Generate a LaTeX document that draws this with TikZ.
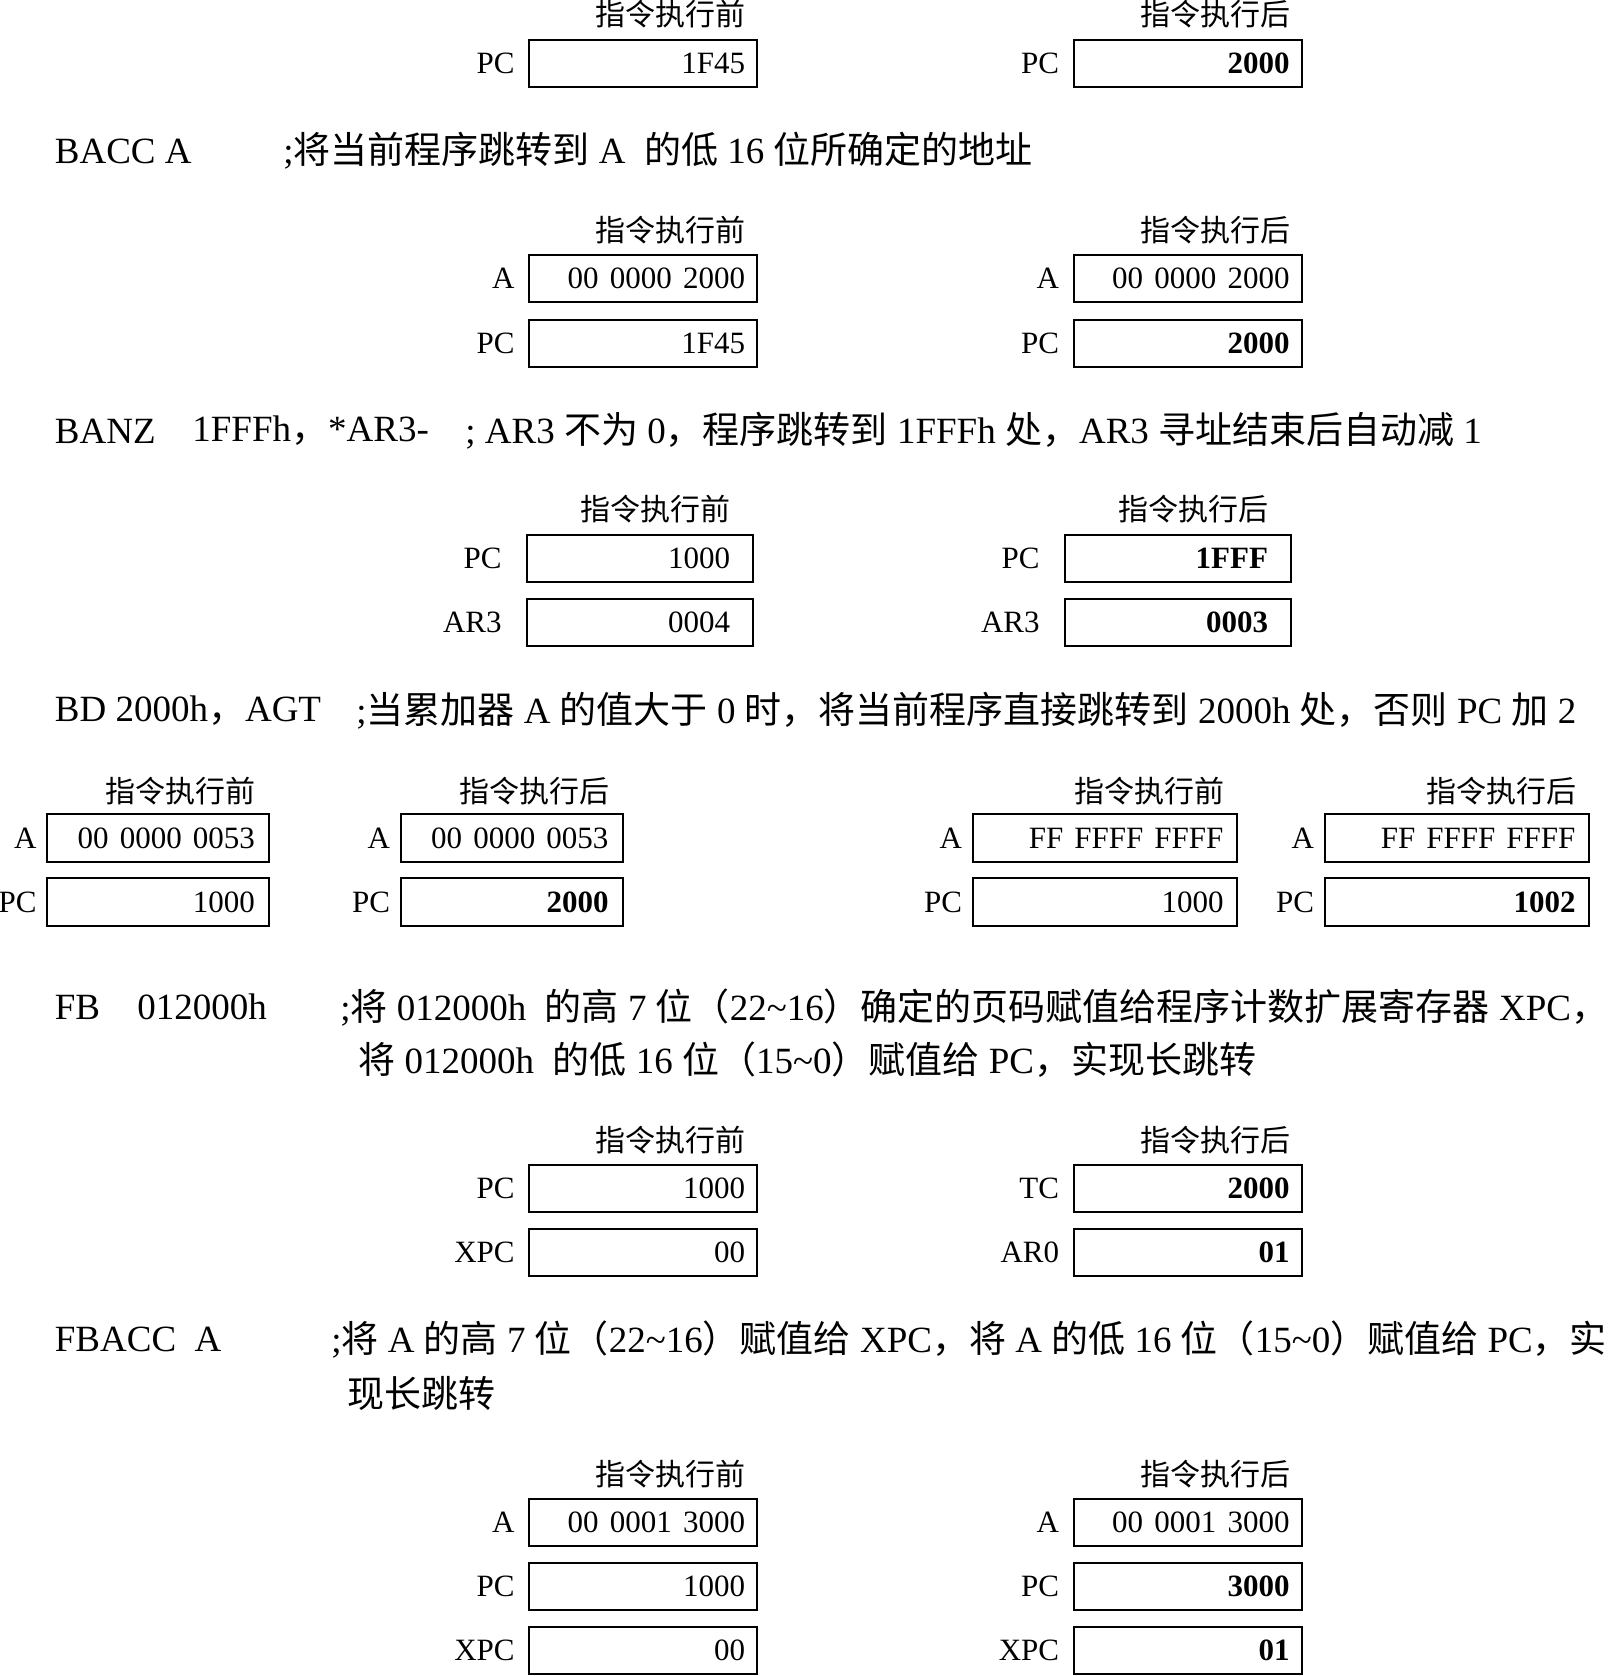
\documentclass[tikz,border=0pt]{standalone}
\usepackage{fontspec}
\setmainfont{Liberation Serif}
\newfontfamily\cjk{Noto Sans CJK SC}
\newcommand\zh[1]{{\cjk #1}}
\newcommand\regsp{\hspace{.36em}}
\usetikzlibrary{positioning}

\begin{document}
\begin{tikzpicture}[x=0.5pt, y=-0.5pt,
    reg/.style={draw, line width=1pt, minimum height=23.5pt, text width=#1, align=right,
        inner xsep=6pt, inner ysep=0pt, font=\fontsize{15.5}{17}\selectfont},
    lbl/.style={inner sep=0pt, font=\fontsize{15.5}{17}\selectfont},
    hdr/.style={inner sep=0pt, font=\fontsize{15}{17}\selectfont\cjk},
    txt/.style={anchor=west, inner sep=0pt, font=\fontsize{18.5}{22}\selectfont}]
    \useasboundingbox (0,0) rectangle (1611,1676);

    % B: before / after
    \node[reg=102pt] (pcA) at (643,63) {1F45};
    \node[reg=102pt] (pcB) at (1187.5,63) {\textbf{2000}};
    \node[lbl, left=6.5pt of pcA] (lpcA) {PC};
    \node[lbl, left=6.5pt of pcB] (lpcB) {PC};
    \node[hdr, above left=5pt and 6pt of pcA.north east] (hdA) {指令执行前};
    \node[hdr, above left=5pt and 6pt of pcB.north east] (hdB) {指令执行后};

    % BACC A
    \node[txt] (op1) at (54.5,151) {BACC A};
    \node[txt] (cm1) at (283,151) {;\zh{将当前程序跳转到} A\ \ \zh{的低} 16 \zh{位所确定的地址}};

    \node[reg=102pt] (accC) at (643,278.5) {00\regsp 0000\regsp 2000};
    \node[reg=102pt] (pcC) at (643,343) {1F45};
    \node[reg=102pt] (accD) at (1187.5,278.5) {00\regsp 0000\regsp 2000};
    \node[reg=102pt] (pcD) at (1187.5,343) {\textbf{2000}};
    \node[lbl, left=6.5pt of accC] (laccC) {A};
    \node[lbl, left=6.5pt of pcC] (lpcC) {PC};
    \node[lbl, left=6.5pt of accD] (laccD) {A};
    \node[lbl, left=6.5pt of pcD] (lpcD) {PC};
    \node[hdr, above left=5pt and 6pt of accC.north east] (hdC) {指令执行前};
    \node[hdr, above left=5pt and 6pt of accD.north east] (hdD) {指令执行后};

    % BANZ
    \node[txt] (op2) at (54.5,431) {BANZ};
    \node[txt] (ar2) at (192,431) {1FFFh\zh{，}*AR3-};
    \node[txt] (cm2) at (465,431) {; AR3 \zh{不为} 0\zh{，程序跳转到} 1FFFh \zh{处，}AR3 \zh{寻址结束后自动减} 1};

    \node[reg=90pt, inner xsep=11.5pt] (pcE) at (640,558) {1000};
    \node[reg=90pt, inner xsep=11.5pt] (arE) at (640,622) {0004};
    \node[reg=90pt, inner xsep=11.5pt] (pcF) at (1178,558) {\textbf{1FFF}};
    \node[reg=90pt, inner xsep=11.5pt] (arF) at (1178,622) {\textbf{0003}};
    \node[lbl, left=12pt of pcE] (lpcE) {PC};
    \node[lbl, left=12pt of arE] (larE) {AR3};
    \node[lbl, left=12pt of pcF] (lpcF) {PC};
    \node[lbl, left=12pt of arF] (larF) {AR3};
    \node[hdr, above left=5pt and 11.5pt of pcE.north east] (hdE) {指令执行前};
    \node[hdr, above left=5pt and 11.5pt of pcF.north east] (hdF) {指令执行后};

    % BD, two cases
    \node[txt] (op3) at (54.5,711) {BD 2000h\zh{，}AGT};
    \node[txt] (cm3) at (356,711) {;\zh{当累加器} A \zh{的值大于} 0 \zh{时，将当前程序直接跳转到} 2000h \zh{处，否则} PC \zh{加} 2};

    \node[reg=97pt, inner xsep=7pt, minimum height=24pt] (accG) at (158,838) {00\regsp 0000\regsp 0053};
    \node[reg=97pt, inner xsep=7pt, minimum height=24pt] (pcG) at (158,902) {1000};
    \node[reg=97pt, inner xsep=7pt, minimum height=24pt] (accH) at (511.5,838) {00\regsp 0000\regsp 0053};
    \node[reg=97pt, inner xsep=7pt, minimum height=24pt] (pcH) at (511.5,902) {\textbf{2000}};
    \node[reg=119pt, inner xsep=6.5pt, minimum height=24pt] (accI) at (1104.5,838) {FF\regsp FFFF\regsp FFFF};
    \node[reg=119pt, inner xsep=6.5pt, minimum height=24pt] (pcI) at (1104.5,902) {1000};
    \node[reg=119pt, inner xsep=6.5pt, minimum height=24pt] (accJ) at (1456.5,838) {FF\regsp FFFF\regsp FFFF};
    \node[reg=119pt, inner xsep=6.5pt, minimum height=24pt] (pcJ) at (1456.5,902) {\textbf{1002}};
    \foreach \c in {G,H,I,J} {
        \node[lbl, left=4.5pt of acc\c] (lacc\c) {A};
        \node[lbl, left=4.5pt of pc\c] (lpc\c) {PC};
    }
    \node[hdr, above left=4pt and 7pt of accG.north east] (hdG) {指令执行前};
    \node[hdr, above left=4pt and 7pt of accH.north east] (hdH) {指令执行后};
    \node[hdr, above left=4pt and 6.5pt of accI.north east] (hdI) {指令执行前};
    \node[hdr, above left=4pt and 6.5pt of accJ.north east] (hdJ) {指令执行后};

    % FB
    \node[txt] (op4) at (54.5,1007) {FB};
    \node[txt] (ar4) at (137,1007) {012000h};
    \node[txt] (cm4) at (340,1007) {;\zh{将} 012000h\ \ \zh{的高} 7 \zh{位（}22\textasciitilde16\zh{）确定的页码赋值给程序计数扩展寄存器} XPC\zh{，}};
    \node[txt] (cm4b) at (358,1060) {\zh{将} 012000h\ \ \zh{的低} 16 \zh{位（}15\textasciitilde0\zh{）赋值给} PC\zh{，实现长跳转}};

    \node[reg=102pt] (pcK) at (643,1188.5) {1000};
    \node[reg=102pt] (xpcK) at (643,1252.5) {00};
    \node[reg=102pt] (tcL) at (1187.5,1188.5) {\textbf{2000}};
    \node[reg=102pt] (arL) at (1187.5,1252.5) {\textbf{01}};
    \node[lbl, left=6.5pt of pcK] (lpcK) {PC};
    \node[lbl, left=6.5pt of xpcK] (lxpcK) {XPC};
    \node[lbl, left=6.5pt of tcL] (ltcL) {TC};
    \node[lbl, left=6.5pt of arL] (larL) {AR0};
    \node[hdr, above left=5pt and 6pt of pcK.north east] (hdK) {指令执行前};
    \node[hdr, above left=5pt and 6pt of tcL.north east] (hdL) {指令执行后};

    % FBACC A
    \node[txt] (op5) at (54.5,1339) {FBACC\ \ A};
    \node[txt] (cm5) at (331,1339) {;\zh{将} A \zh{的高} 7 \zh{位（}22\textasciitilde16\zh{）赋值给} XPC\zh{，将} A \zh{的低} 16 \zh{位（}15\textasciitilde0\zh{）赋值给} PC\zh{，实}};
    \node[txt] (cm5b) at (347,1393) {\zh{现长跳转}};

    \node[reg=102pt] (accM) at (643,1522.5) {00\regsp 0001\regsp 3000};
    \node[reg=102pt] (pcM) at (643,1586.5) {1000};
    \node[reg=102pt] (xpcM) at (643,1650.5) {00};
    \node[reg=102pt] (accN) at (1187.5,1522.5) {00\regsp 0001\regsp 3000};
    \node[reg=102pt] (pcN) at (1187.5,1586.5) {\textbf{3000}};
    \node[reg=102pt] (xpcN) at (1187.5,1650.5) {\textbf{01}};
    \foreach \c in {M,N} {
        \node[lbl, left=6.5pt of acc\c] (lacc\c) {A};
        \node[lbl, left=6.5pt of pc\c] (lpc\c) {PC};
        \node[lbl, left=6.5pt of xpc\c] (lxpc\c) {XPC};
    }
    \node[hdr, above left=5pt and 6pt of accM.north east] (hdM) {指令执行前};
    \node[hdr, above left=5pt and 6pt of accN.north east] (hdN) {指令执行后};
\end{tikzpicture}
\end{document}
